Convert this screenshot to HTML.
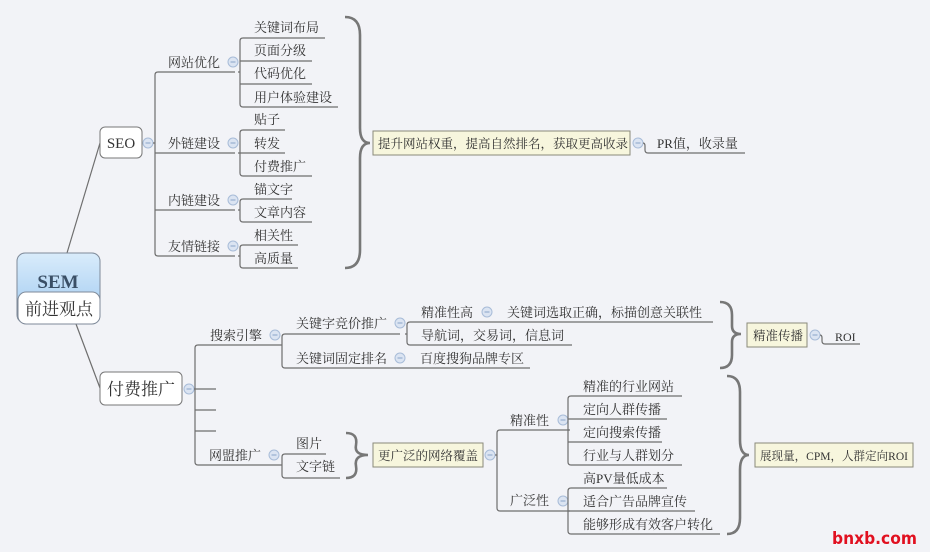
<!DOCTYPE html>
<html><head><meta charset="utf-8"><style>
html,body{margin:0;padding:0;background:#f2f3f7;}
svg{display:block}
text{font-family:"Liberation Serif","Noto Serif CJK SC",serif;font-size:13px;fill:#333;}
.l{stroke:#6e6e6e;stroke-width:1.2;fill:none}
.b{stroke:#777;stroke-width:2.6;fill:none}
.c{fill:#dbe4f2;stroke:#a8bcd8;stroke-width:1}
.m{stroke:#8aa3c8;stroke-width:1}
</style></head><body>
<svg width="930" height="552" viewBox="0 0 930 552" xmlns="http://www.w3.org/2000/svg">
<defs>
<linearGradient id="g" x1="0" y1="0" x2="0" y2="1"><stop offset="0" stop-color="#d9ecfb"/><stop offset="1" stop-color="#9dc8f0"/></linearGradient>
<g id="cir"><circle r="5" class="c"/><line x1="-2.5" y1="0" x2="2.5" y2="0" class="m"/></g>
</defs>
<rect width="930" height="552" fill="#f2f3f7"/>

<path class="l" d="M67 253 L100 143"/>
<path class="l" d="M76 324 L100 388"/>
<rect x="17" y="253" width="83" height="70" rx="8" fill="url(#g)" stroke="#7f8a99"/>
<text x="58" y="288" text-anchor="middle" style="font-size:19px;font-weight:bold;fill:#3a4f66">SEM</text>
<rect x="18" y="292" width="82" height="32" rx="8" fill="#fff" stroke="#7f8a99"/>
<text x="59" y="315" text-anchor="middle" style="font-size:17px">前进观点</text>

<rect x="100" y="127" width="42" height="31" rx="5" fill="#fff" stroke="#777"/>
<text x="121" y="148" text-anchor="middle" style="font-size:15px">SEO</text>
<use href="#cir" x="148" y="143"/>
<path class="l" d="M153 143 H155 M235 72 H158 Q155 72 155 75 V253 Q155 256 158 256 H235 M155 153 H235 M155 210 H235"/>
<text x="168" y="67">网站优化</text><use href="#cir" x="233" y="62"/>
<text x="168" y="148">外链建设</text><use href="#cir" x="233" y="143"/>
<text x="168" y="205">内链建设</text><use href="#cir" x="233" y="200"/>
<text x="168" y="251">友情链接</text><use href="#cir" x="233" y="246"/>

<path class="l" d="M238 72 H240 M325 38 H243 Q240 38 240 41 V104 Q240 107 243 107 H338 M240 61 H312 M240 84 H312"/>
<text x="254" y="32">关键词布局</text><text x="254" y="55">页面分级</text><text x="254" y="78">代码优化</text><text x="254" y="102">用户体验建设</text>
<path class="l" d="M238 153 H240 M285 130 H243 Q240 130 240 133 V173 Q240 176 243 176 H312 M240 153 H285"/>
<text x="254" y="124">贴子</text><text x="254" y="148">转发</text><text x="254" y="171">付费推广</text>
<path class="l" d="M238 210 H240 M292 199 H243 Q240 199 240 202 V219 Q240 222 243 222 H312"/>
<text x="254" y="194">锚文字</text><text x="254" y="217">文章内容</text>
<path class="l" d="M238 256 H240 M298 245 H243 Q240 245 240 248 V265 Q240 268 243 268 H298"/>
<text x="254" y="240">相关性</text><text x="254" y="263">高质量</text>

<path class="b" d="M345 17 Q360 17 360 35 V128 Q360 143 370 143 Q360 143 360 158 V250 Q360 268 345 268"/>
<rect x="373" y="131" width="257" height="24" fill="#f7f6dd" stroke="#8a8a7a"/>
<text x="378" y="148" style="font-size:12.5px">提升网站权重，提高自然排名，获取更高收录</text>
<use href="#cir" x="638" y="143"/>
<path class="l" d="M643 143 Q645 143 645 146 V150 Q645 153 648 153 H745"/>
<text x="657" y="148">PR值，收录量</text>

<rect x="100" y="372" width="82" height="33" rx="5" fill="#fff" stroke="#777"/>
<text x="141" y="395" text-anchor="middle" style="font-size:17px">付费推广</text>
<use href="#cir" x="189" y="389"/>
<path class="l" d="M194 389 H216 M280 345 H198 Q195 345 195 348 V462 Q195 465 198 465 H280 M195 410 H216 M195 431 H216"/>
<text x="210" y="340">搜索引擎</text><use href="#cir" x="275" y="335"/>
<text x="209" y="460">网盟推广</text><use href="#cir" x="274" y="455"/>

<path class="l" d="M280 345 H282 M400 334 H285 Q282 334 282 337 V365 Q282 368 285 368 H530"/>
<text x="296" y="328">关键字竞价推广</text><use href="#cir" x="400" y="323"/>
<text x="296" y="363">关键词固定排名</text><use href="#cir" x="400" y="358"/>
<text x="420" y="363">百度搜狗品牌专区</text>
<path class="l" d="M405 334 H407 M713 322 H410 Q407 322 407 325 V342 Q407 345 410 345 H572"/>
<text x="421" y="317">精准性高</text><use href="#cir" x="487" y="312"/>
<text x="507" y="317">关键词选取正确，标描创意关联性</text>
<text x="421" y="340">导航词，交易词，信息词</text>

<path class="b" d="M720 302 Q732 302 732 315 V326 Q732 334 741 334 Q732 334 732 342 V355 Q732 368 720 368"/>
<rect x="747" y="323" width="60" height="24" fill="#f7f6dd" stroke="#8a8a7a"/>
<text x="753" y="340" style="font-size:12.5px">精准传播</text>
<use href="#cir" x="815" y="335"/>
<path class="l" d="M820 335 Q822 335 822 338 V341 Q822 344 825 344 H860"/>
<text x="835" y="341" style="font-size:12px">ROI</text>

<path class="l" d="M280 465 H282 M326 454 H285 Q282 454 282 457 V475 Q282 478 285 478 H340"/>
<text x="296" y="448">图片</text><text x="296" y="471">文字链</text>
<path class="b" d="M346 433 Q358 433 356 445 Q354 455 368 455 Q354 455 356 466 Q358 478 346 478"/>
<rect x="373" y="443" width="110" height="24" fill="#f7f6dd" stroke="#8a8a7a"/>
<text x="378" y="460" style="font-size:12.5px">更广泛的网络覆盖</text>
<use href="#cir" x="490" y="455"/>
<path class="l" d="M495 455 H497 M570 430 H500 Q497 430 497 433 V508 Q497 511 500 511 H570"/>
<text x="510" y="425">精准性</text><use href="#cir" x="563" y="420"/>
<text x="510" y="505">广泛性</text><use href="#cir" x="563" y="501"/>
<path class="l" d="M568 430 H569 M682 396 H571 Q568 396 568 399 V462 Q568 465 571 465 H682 M568 419 H667 M568 442 H662"/>
<text x="583" y="391">精准的行业网站</text><text x="583" y="414">定向人群传播</text><text x="583" y="437">定向搜索传播</text><text x="583" y="460">行业与人群划分</text>
<path class="l" d="M568 511 H569 M667 488 H571 Q568 488 568 491 V531 Q568 534 571 534 H720 M568 511 H695"/>
<text x="583" y="483">高PV量低成本</text><text x="583" y="506">适合广告品牌宣传</text><text x="583" y="529">能够形成有效客户转化</text>

<path class="b" d="M727 376 Q740 376 740 392 V440 Q740 455 749 455 Q740 455 740 470 V518 Q740 534 727 534"/>
<rect x="755" y="443" width="158" height="24" fill="#f7f6dd" stroke="#8a8a7a"/>
<text x="760" y="460" textLength="148" lengthAdjust="spacingAndGlyphs" style="font-size:12px">展现量，CPM，人群定向ROI</text>

<text x="832" y="544" textLength="85" lengthAdjust="spacingAndGlyphs" style="font-family:'DejaVu Sans',sans-serif;font-size:17px;font-weight:bold;fill:#e01020;stroke:#fff;stroke-width:0.4;paint-order:stroke">bnxb.com</text>
</svg>
</body></html>
